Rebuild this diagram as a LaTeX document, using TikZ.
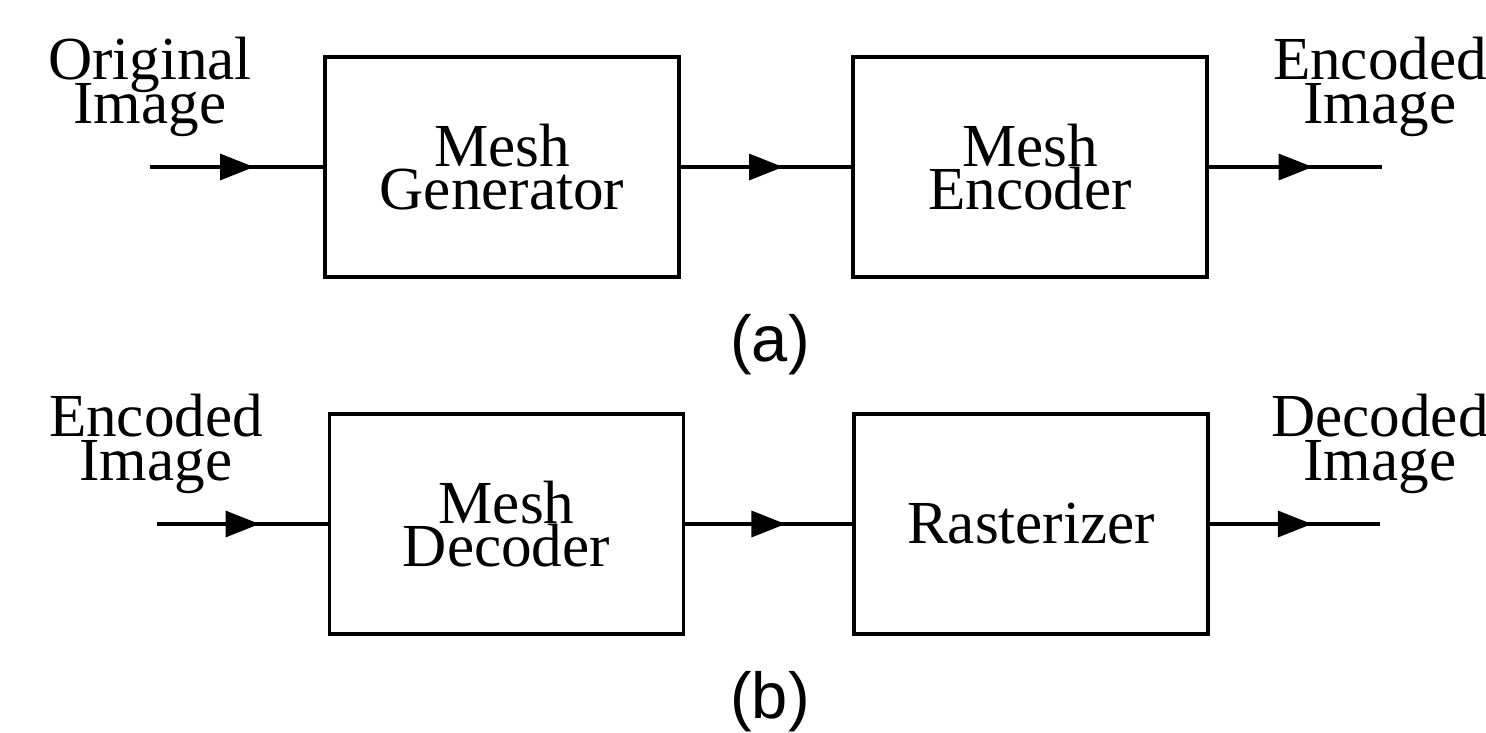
\documentclass[tikz,border=0pt]{standalone}
\usepackage{fontspec}
\setmainfont{Liberation Serif}
\setsansfont{Liberation Sans}
\usetikzlibrary{arrows.meta,decorations.markings}
\newcommand{\figfont}{\fontsize{17.4}{12.4}\selectfont\lineskiplimit=-100pt\lineskip=0pt}
\tikzset{block/.style={draw,line width=0.95pt,minimum width=3.54cm,minimum height=2.2cm,inner sep=0pt,align=center,font=\figfont},
         lbl/.style={inner sep=0pt,align=center,font=\figfont},
         sublabel/.style={inner sep=0pt,font=\sffamily\fontsize{18.5}{20}\selectfont},
         line/.style={line width=0.95pt,postaction={decorate},
           decoration={markings,mark=at position 0.6 with {\arrow{Triangle[length=0.34cm,width=0.26cm]}}}}
}
\begin{document}
\begin{tikzpicture}
  \useasboundingbox (0,0) rectangle (14.86,-7.33);
  % (a) encoder
  \node[block] (gen) at (5.02,-1.67) {Mesh\\Generator};
  \node[block] (enc) at (10.30,-1.67) {Mesh\\Encoder};
  \coordinate (ina) at (1.50,-1.67);
  \coordinate (outa) at (13.82,-1.67);
  \node[lbl] (ina lbl) at (1.50,-0.87) {Original\\Image};
  \node[lbl] (outa lbl) at (13.80,-0.87) {Encoded\\Image};
  \node[sublabel] (suba) at (7.70,-3.45) {(a)};

  % (b) decoder
  \node[block] (dec) at (5.065,-5.24) {Mesh\\Decoder};
  \node[block] (rast) at (10.31,-5.24) {Rasterizer};
  \coordinate (inb) at (1.57,-5.24);
  \coordinate (outb) at (13.80,-5.24);
  \node[lbl] (inb lbl) at (1.56,-4.44) {Encoded\\Image};
  \node[lbl] (outb lbl) at (13.80,-4.44) {Decoded\\Image};
  \node[sublabel] (subb) at (7.70,-7.02) {(b)};

  \draw[line] (ina) -- (gen);
  \draw[line] (gen) -- (enc);
  \draw[line] (enc) -- (outa);
  \draw[line] (inb) -- (dec);
  \draw[line] (dec) -- (rast);
  \draw[line] (rast) -- (outb);
\end{tikzpicture}
\end{document}
